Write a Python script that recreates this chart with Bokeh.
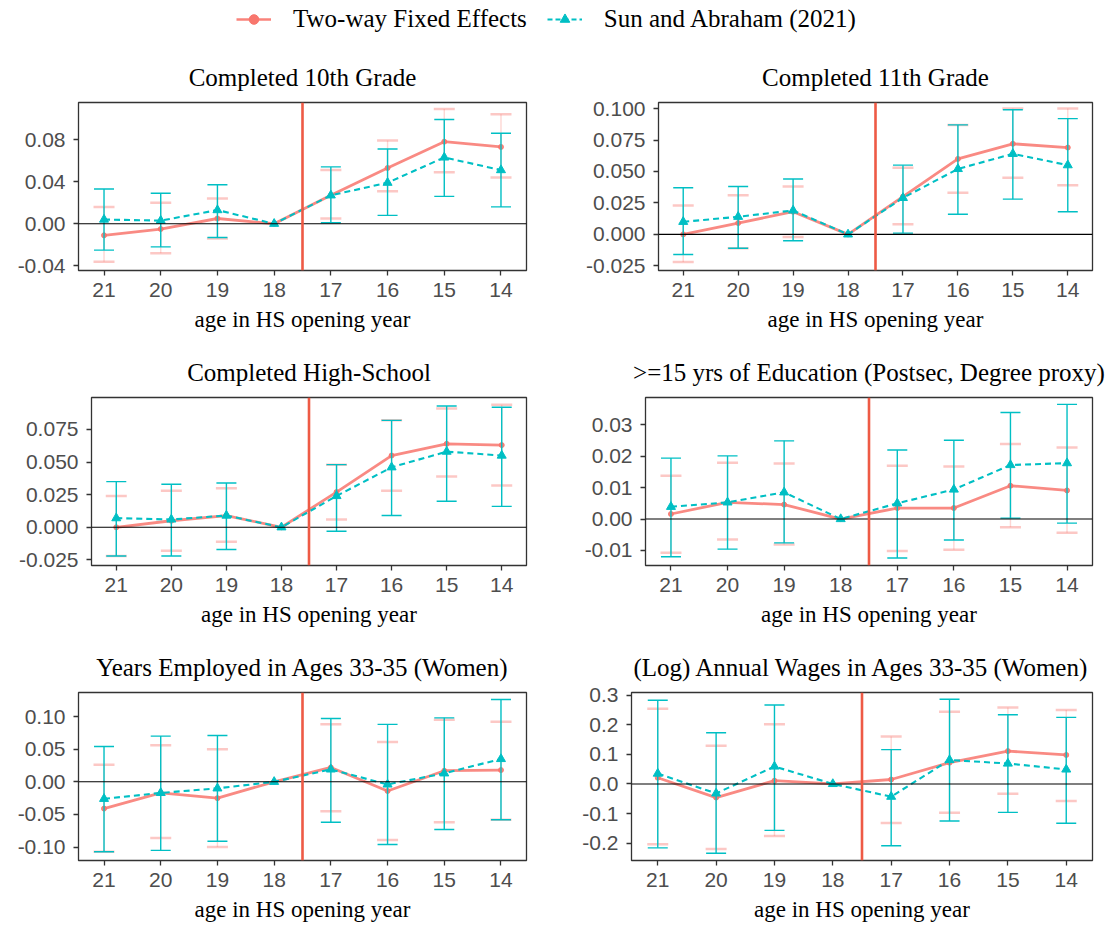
from bokeh.plotting import figure
from bokeh.layouts import column, row
from bokeh.models import (ColumnDataSource, Range1d, FixedTicker, CustomJSTickFormatter,
                          Whisker, TeeHead, Span, Legend, LegendItem)
from bokeh.embed import file_html
from bokeh.resources import INLINE

# ---------------- data ----------------
ages = [21, 20, 19, 18, 17, 16, 15, 14]
age_labels = ["21", "20", "19", "18", "17", "16", "15", "14"]
ref_age = 18
treat_cut = 17.5
x_title = "age in HS opening year"
series_names = ["Two-way Fixed Effects", "Sun and Abraham (2021)"]

titles = [
    "Completed 10th Grade",
    "Completed 11th Grade",
    "Completed High-School",
    ">=15 yrs of Education (Postsec, Degree proxy)",
    "Years Employed in Ages 33-35 (Women)",
    "(Log) Annual Wages in Ages 33-35 (Women)",
]

# Completed 10th Grade
g10_twfe = [-0.011, -0.005, 0.005, 0.0, 0.027, 0.053, 0.078, 0.073]
g10_twfe_lo = [-0.036, -0.028, -0.014, 0.0, 0.005, 0.031, 0.049, 0.044]
g10_twfe_hi = [0.016, 0.020, 0.024, 0.0, 0.051, 0.079, 0.109, 0.104]
g10_sa = [0.004, 0.003, 0.013, 0.0, 0.027, 0.039, 0.063, 0.051]
g10_sa_lo = [-0.025, -0.022, -0.013, 0.0, 0.001, 0.008, 0.026, 0.016]
g10_sa_hi = [0.033, 0.029, 0.037, 0.0, 0.054, 0.071, 0.099, 0.086]
g10_ticks = [-0.04, 0.0, 0.04, 0.08]
g10_tick_labels = ["-0.04", "0.00", "0.04", "0.08"]

# Completed 11th Grade
g11_twfe = [0.0, 0.009, 0.018, 0.0, 0.030, 0.060, 0.072, 0.069]
g11_twfe_lo = [-0.022, -0.011, -0.002, 0.0, 0.008, 0.033, 0.045, 0.039]
g11_twfe_hi = [0.023, 0.031, 0.038, 0.0, 0.053, 0.087, 0.100, 0.100]
g11_sa = [0.010, 0.014, 0.019, 0.0, 0.029, 0.052, 0.064, 0.055]
g11_sa_lo = [-0.016, -0.011, -0.005, 0.0, 0.001, 0.016, 0.028, 0.018]
g11_sa_hi = [0.037, 0.038, 0.044, 0.0, 0.055, 0.087, 0.099, 0.092]
g11_ticks = [-0.025, 0.0, 0.025, 0.05, 0.075, 0.1]
g11_tick_labels = ["-0.025", "0.000", "0.025", "0.050", "0.075", "0.100"]

# Completed High-School
hs_twfe = [0.0, 0.005, 0.009, 0.0, 0.027, 0.055, 0.064, 0.063]
hs_twfe_lo = [-0.022, -0.018, -0.011, 0.0, 0.006, 0.028, 0.039, 0.032]
hs_twfe_hi = [0.024, 0.028, 0.030, 0.0, 0.048, 0.082, 0.091, 0.094]
hs_sa = [0.007, 0.006, 0.009, 0.0, 0.024, 0.046, 0.058, 0.055]
hs_sa_lo = [-0.022, -0.022, -0.017, 0.0, -0.003, 0.009, 0.020, 0.016]
hs_sa_hi = [0.035, 0.033, 0.034, 0.0, 0.048, 0.082, 0.093, 0.092]
hs_ticks = [-0.025, 0.0, 0.025, 0.05, 0.075]
hs_tick_labels = ["-0.025", "0.000", "0.025", "0.050", "0.075"]

# >=15 yrs of Education
ps_twfe = [0.0016, 0.0053, 0.0046, 0.0, 0.0035, 0.0035, 0.0106, 0.0091]
ps_twfe_lo = [-0.0107, -0.0065, -0.0081, 0.0, -0.0102, -0.0098, -0.0026, -0.0044]
ps_twfe_hi = [0.0138, 0.0179, 0.0177, 0.0, 0.0170, 0.0167, 0.0239, 0.0228]
ps_sa = [0.0039, 0.0053, 0.0085, 0.0, 0.0050, 0.0094, 0.0172, 0.0178]
ps_sa_lo = [-0.0120, -0.0096, -0.0076, 0.0, -0.0124, -0.0067, 0.0003, -0.0013]
ps_sa_hi = [0.0194, 0.0201, 0.0249, 0.0, 0.0220, 0.0251, 0.0339, 0.0365]
ps_ticks = [-0.01, 0.0, 0.01, 0.02, 0.03]
ps_tick_labels = ["-0.01", "0.00", "0.01", "0.02", "0.03"]

# Years Employed in Ages 33-35 (Women)
em_twfe = [-0.041, -0.017, -0.025, 0.0, 0.022, -0.014, 0.017, 0.018]
em_twfe_lo = [-0.107, -0.086, -0.100, 0.0, -0.045, -0.089, -0.062, -0.058]
em_twfe_hi = [0.026, 0.056, 0.050, 0.0, 0.088, 0.061, 0.095, 0.092]
em_sa = [-0.026, -0.017, -0.010, 0.0, 0.019, -0.004, 0.013, 0.035]
em_sa_lo = [-0.107, -0.105, -0.091, 0.0, -0.062, -0.096, -0.073, -0.058]
em_sa_hi = [0.054, 0.070, 0.071, 0.0, 0.097, 0.088, 0.098, 0.126]
em_ticks = [-0.1, -0.05, 0.0, 0.05, 0.1]
em_tick_labels = ["-0.10", "-0.05", "0.00", "0.05", "0.10"]

# (Log) Annual Wages in Ages 33-35 (Women)
wg_twfe = [0.021, -0.046, 0.011, 0.0, 0.015, 0.072, 0.111, 0.098]
wg_twfe_lo = [-0.204, -0.220, -0.176, 0.0, -0.132, -0.097, -0.033, -0.058]
wg_twfe_hi = [0.254, 0.129, 0.202, 0.0, 0.160, 0.244, 0.258, 0.250]
wg_sa = [0.035, -0.032, 0.059, 0.0, -0.043, 0.081, 0.069, 0.049]
wg_sa_lo = [-0.216, -0.234, -0.157, 0.0, -0.209, -0.125, -0.096, -0.133]
wg_sa_hi = [0.283, 0.173, 0.267, 0.0, 0.116, 0.286, 0.234, 0.225]
wg_ticks = [-0.2, -0.1, 0.0, 0.1, 0.2, 0.3]
wg_tick_labels = ["-0.2", "-0.1", "0.0", "0.1", "0.2", "0.3"]

# ---------------- style ----------------
TWFE_COLOR = "#F8766D"
SA_COLOR = "#00BFC4"
VLINE_COLOR = "#EE5A45"
FRAME_COLOR = "#333333"
TICK_TEXT = "#4D4D4D"
SERIF = "Liberation Serif"
SANS = "Liberation Sans"

LOOKUP = "const i = vals.findIndex(v => Math.abs(v - tick) < 1e-9); return i >= 0 ? labs[i] : '';"


def make_panel(title, twfe, twfe_lo, twfe_hi, sa, sa_lo, sa_hi, ticks, tick_labels,
               yrange, left, right, height, bottom):
    p = figure(width=555, height=height, x_range=Range1d(21.45, 13.55),
               y_range=Range1d(*yrange), output_backend="svg", toolbar_location=None,
               min_border_left=left, min_border_right=right, min_border_top=57,
               min_border_bottom=bottom)
    p.grid.visible = False
    p.outline_line_color = FRAME_COLOR
    p.outline_line_width = 1.3
    p.background_fill_color = "white"

    p.title.text = title
    p.title.align = "center"
    p.title.text_font = SERIF
    p.title.text_font_size = "25px"
    p.title.text_font_style = "normal"
    p.title.text_color = "black"
    p.title.standoff = 23

    # axes
    p.xaxis.ticker = FixedTicker(ticks=ages)
    p.xaxis.formatter = CustomJSTickFormatter(args=dict(vals=ages, labs=age_labels), code=LOOKUP)
    p.yaxis.ticker = FixedTicker(ticks=ticks)
    p.yaxis.formatter = CustomJSTickFormatter(args=dict(vals=ticks, labs=tick_labels), code=LOOKUP)
    for ax in (p.xaxis[0], p.yaxis[0]):
        ax.axis_line_color = None
        ax.major_tick_line_color = FRAME_COLOR
        ax.major_tick_line_width = 1.3
        ax.major_tick_out = 5
        ax.major_tick_in = 0
        ax.minor_tick_line_color = None
        ax.major_label_text_font = SANS
        ax.major_label_text_font_size = "21px"
        ax.major_label_text_color = TICK_TEXT
    p.xaxis.major_label_standoff = 7
    p.yaxis.major_label_standoff = 8
    p.xaxis.axis_label = x_title
    p.xaxis.axis_label_text_font = SERIF
    p.xaxis.axis_label_text_font_size = "23px"
    p.xaxis.axis_label_text_font_style = "normal"
    p.xaxis.axis_label_text_color = "black"
    p.xaxis.axis_label_standoff = 7

    # reference lines
    p.add_layout(Span(location=0, dimension="width", line_color="black", line_width=1.1))
    p.add_layout(Span(location=treat_cut, dimension="height", line_color=VLINE_COLOR,
                      line_width=2.6))

    # error bars (excluding the reference age)
    keep = [i for i, a in enumerate(ages) if a != ref_age]
    tw_src = ColumnDataSource(dict(x=[ages[i] for i in keep],
                                   lo=[twfe_lo[i] for i in keep],
                                   hi=[twfe_hi[i] for i in keep]))
    sa_src = ColumnDataSource(dict(x=[ages[i] for i in keep],
                                   lo=[sa_lo[i] for i in keep],
                                   hi=[sa_hi[i] for i in keep]))
    w1 = Whisker(source=tw_src, base="x", lower="lo", upper="hi", dimension="height",
                 line_color=TWFE_COLOR, line_alpha=0.3, line_width=1.4, level="underlay",
                 upper_head=TeeHead(size=21, line_color=TWFE_COLOR, line_alpha=0.4, line_width=2.5),
                 lower_head=TeeHead(size=21, line_color=TWFE_COLOR, line_alpha=0.4, line_width=2.5))
    p.add_layout(w1)

    src = ColumnDataSource(dict(x=ages, twfe=twfe, sa=sa))
    p.line("x", "twfe", source=src, line_color=TWFE_COLOR, line_width=2.8, line_alpha=0.85)
    p.scatter("x", "twfe", source=src, marker="circle", size=5, color=TWFE_COLOR, alpha=0.9)

    w2 = Whisker(source=sa_src, base="x", lower="lo", upper="hi", dimension="height",
                 line_color=SA_COLOR, line_width=1.4, level="glyph",
                 upper_head=TeeHead(size=20, line_color=SA_COLOR, line_width=1.4),
                 lower_head=TeeHead(size=20, line_color=SA_COLOR, line_width=1.4))
    p.add_layout(w2)

    p.line("x", "sa", source=src, line_color=SA_COLOR, line_width=2.1, line_dash="6 4")
    p.scatter("x", "sa", source=src, marker="triangle", size=9, color=SA_COLOR)
    return p


p1 = make_panel(titles[0], g10_twfe, g10_twfe_lo, g10_twfe_hi, g10_sa, g10_sa_lo, g10_sa_hi,
                g10_ticks, g10_tick_labels, (-0.0444, 0.1152), 78, 29, 295, 70)
p2 = make_panel(titles[1], g11_twfe, g11_twfe_lo, g11_twfe_hi, g11_sa, g11_sa_lo, g11_sa_hi,
                g11_ticks, g11_tick_labels, (-0.0287, 0.1048), 103, 18, 295, 70)
p3 = make_panel(titles[2], hs_twfe, hs_twfe_lo, hs_twfe_hi, hs_sa, hs_sa_lo, hs_sa_hi,
                hs_ticks, hs_tick_labels, (-0.0293, 0.0995), 91, 29, 295, 70)
p4 = make_panel(titles[3], ps_twfe, ps_twfe_lo, ps_twfe_hi, ps_sa, ps_sa_lo, ps_sa_hi,
                ps_ticks, ps_tick_labels, (-0.0148, 0.0387), 90, 18, 295, 70)
p5 = make_panel(titles[4], em_twfe, em_twfe_lo, em_twfe_hi, em_sa, em_sa_lo, em_sa_hi,
                em_ticks, em_tick_labels, (-0.1205, 0.1368), 78, 29, 290, 65)
p6 = make_panel(titles[5], wg_twfe, wg_twfe_lo, wg_twfe_hi, wg_sa, wg_sa_lo, wg_sa_hi,
                wg_ticks, wg_tick_labels, (-0.2587, 0.309), 76, 18, 290, 65)

# legend strip
leg = figure(width=1110, height=45, x_range=Range1d(0, 1), y_range=Range1d(0, 1),
             x_axis_type=None, y_axis_type=None, output_backend="svg",
             toolbar_location=None, min_border=0)
leg.outline_line_color = None
leg.grid.visible = False
offscreen = ColumnDataSource(dict(x=[-5, -4], y=[-5, -4]))
r1 = leg.line("x", "y", source=offscreen, line_color=TWFE_COLOR, line_width=2.6, line_alpha=0.9)
r1b = leg.scatter("x", "y", source=offscreen, marker="circle", size=6, color=TWFE_COLOR)
r2 = leg.line("x", "y", source=offscreen, line_color=SA_COLOR, line_width=2.1, line_dash="5 3")
r2b = leg.scatter("x", "y", source=offscreen, marker="triangle", size=8, color=SA_COLOR)
legend = Legend(items=[LegendItem(label=series_names[0], renderers=[r1, r1b]),
                       LegendItem(label=series_names[1], renderers=[r2, r2b])],
                orientation="horizontal", location=(236, 12),
                border_line_color=None, background_fill_alpha=0,
                label_text_font=SERIF, label_text_font_size="25px", label_text_color="black",
                glyph_width=35, glyph_height=24, label_standoff=22, spacing=20,
                padding=0, margin=0)
leg.add_layout(legend, "center")

layout = column(leg, row(p1, p2), row(p3, p4), row(p5, p6))
open("out.html", "w").write(file_html(layout, INLINE))
